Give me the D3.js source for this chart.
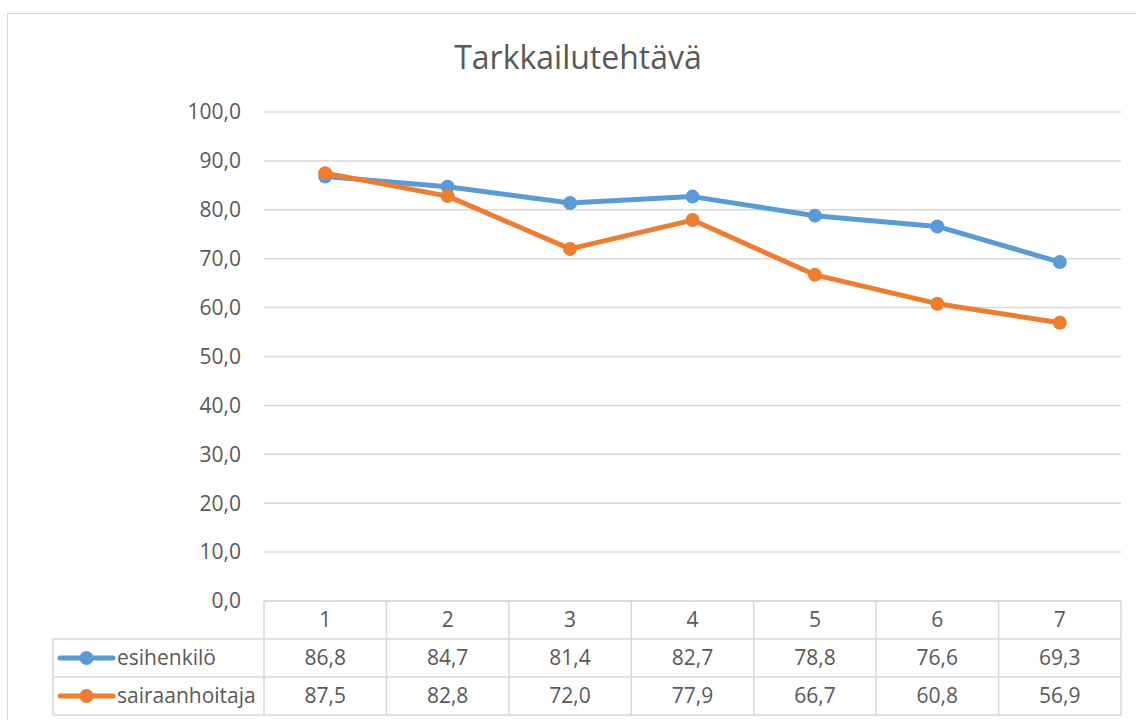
<!DOCTYPE html>
<html>
<head>
<meta charset="utf-8">
<script src="https://d3js.org/d3.v7.min.js"></script>
<style>
  body { margin: 0; background: #fff; }
  text { font-family: "Open Sans", Lato, sans-serif; fill: #595959; }
</style>
</head>
<body>
<div id="chart"></div>
<script>
// chart values
var categories = ["1", "2", "3", "4", "5", "6", "7"];
var seriesNames = ["esihenkilö", "sairaanhoitaja"];
var esihenkilo = [86.8, 84.7, 81.4, 82.7, 78.8, 76.6, 69.3];
var sairaanhoitaja = [87.5, 82.8, 72.0, 77.9, 66.7, 60.8, 56.9];
var yTicks = [0, 10, 20, 30, 40, 50, 60, 70, 80, 90, 100];
var colors = ["#5B9BD5", "#ED7D31"];

var W = 1136, H = 720;
var plot = { left: 264, right: 1121, top: 112, bottom: 601 };
var rowH = 38;
var legendLeft = 53;
var labelSize = "21px";

var svg = d3.select("#chart").append("svg")
    .attr("width", W)
    .attr("height", H);

// chart area border
svg.append("rect")
    .attr("x", 7.5).attr("y", 13.5)
    .attr("width", 1140).attr("height", 720)
    .attr("fill", "#fff")
    .attr("stroke", "#D9D9D9");

svg.append("text")
    .attr("x", 578).attr("y", 69)
    .attr("text-anchor", "middle")
    .style("font-size", "32px")
    .text("Tarkkailutehtävä");

var x = d3.scaleBand()
    .domain(categories)
    .range([plot.left, plot.right]);

var y = d3.scaleLinear()
    .domain([0, 100])
    .range([plot.bottom, plot.top]);

// gridlines
svg.append("g")
    .selectAll("line")
    .data(yTicks)
    .join("line")
    .attr("x1", plot.left).attr("x2", plot.right)
    .attr("y1", function (d) { return y(d); })
    .attr("y2", function (d) { return y(d); })
    .attr("stroke", "#D9D9D9")
    .attr("stroke-width", 1.5);

// y axis labels
var fmt = function (d) { return d3.format(".1f")(d).replace(".", ","); };
svg.append("g")
    .selectAll("text")
    .data(yTicks)
    .join("text")
    .attr("x", 241)
    .attr("y", function (d) { return y(d); })
    .attr("dy", "0.35em")
    .attr("text-anchor", "end")
    .style("font-size", labelSize)
    .text(fmt);

// data table
var table = svg.append("g");
var tableBottom = plot.bottom + rowH * 3;
var gridColor = "#D9D9D9";

// horizontal lines
table.append("line")
    .attr("x1", plot.left).attr("x2", plot.right)
    .attr("y1", plot.bottom).attr("y2", plot.bottom)
    .attr("stroke", gridColor).attr("stroke-width", 1.5);
[1, 2, 3].forEach(function (r) {
    table.append("line")
        .attr("x1", legendLeft).attr("x2", plot.right)
        .attr("y1", plot.bottom + rowH * r).attr("y2", plot.bottom + rowH * r)
        .attr("stroke", gridColor).attr("stroke-width", 1.5);
});
// vertical lines
table.append("line")
    .attr("x1", legendLeft).attr("x2", legendLeft)
    .attr("y1", plot.bottom + rowH).attr("y2", tableBottom)
    .attr("stroke", gridColor).attr("stroke-width", 1.5);
var edges = categories.map(function (c) { return x(c); }).concat([plot.right]);
table.selectAll("line.v")
    .data(edges)
    .join("line")
    .attr("class", "v")
    .attr("x1", function (d) { return d; }).attr("x2", function (d) { return d; })
    .attr("y1", plot.bottom).attr("y2", tableBottom)
    .attr("stroke", gridColor).attr("stroke-width", 1.5);

// header row
table.selectAll("text.cat")
    .data(categories)
    .join("text")
    .attr("class", "cat")
    .attr("x", function (d) { return x(d) + x.bandwidth() / 2; })
    .attr("y", plot.bottom + rowH / 2)
    .attr("dy", "0.35em")
    .attr("text-anchor", "middle")
    .style("font-size", labelSize)
    .text(function (d) { return d; });

var allSeries = [esihenkilo, sairaanhoitaja];

allSeries.forEach(function (vals, s) {
    var cy = plot.bottom + rowH * (s + 1) + rowH / 2;
    // legend key
    table.append("line")
        .attr("x1", 60).attr("x2", 113)
        .attr("y1", cy).attr("y2", cy)
        .attr("stroke", colors[s]).attr("stroke-width", 5)
        .attr("stroke-linecap", "round");
    table.append("circle")
        .attr("cx", 86.5).attr("cy", cy).attr("r", 7)
        .attr("fill", colors[s]);
    table.append("text")
        .attr("x", 117).attr("y", cy)
        .attr("dy", "0.35em")
        .style("font-size", labelSize)
        .text(seriesNames[s]);
    table.selectAll("text.v" + s)
        .data(vals)
        .join("text")
        .attr("class", "v" + s)
        .attr("x", function (d, i) { return x(categories[i]) + x.bandwidth() / 2; })
        .attr("y", cy)
        .attr("dy", "0.35em")
        .attr("text-anchor", "middle")
        .style("font-size", labelSize)
        .text(fmt);
});

// lines and markers
var line = d3.line()
    .x(function (d, i) { return x(categories[i]) + x.bandwidth() / 2; })
    .y(function (d) { return y(d); });

allSeries.forEach(function (vals, s) {
    svg.append("path")
        .datum(vals)
        .attr("fill", "none")
        .attr("stroke", colors[s])
        .attr("stroke-width", 5)
        .attr("stroke-linejoin", "round")
        .attr("d", line);
    svg.append("g")
        .selectAll("circle")
        .data(vals)
        .join("circle")
        .attr("cx", function (d, i) { return x(categories[i]) + x.bandwidth() / 2; })
        .attr("cy", function (d) { return y(d); })
        .attr("r", 7)
        .attr("fill", colors[s]);
});
</script>
</body>
</html>
